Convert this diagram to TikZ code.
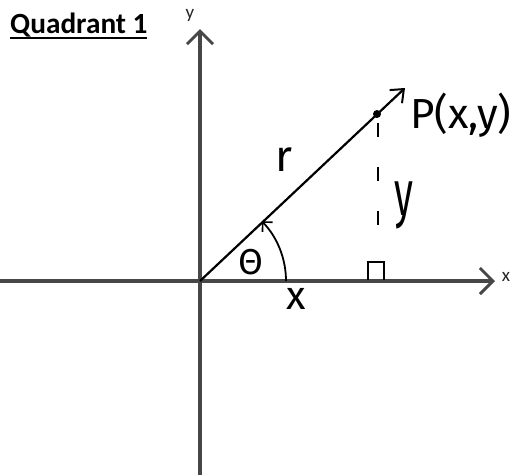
\documentclass[tikz,border=0pt]{standalone}
\usepackage{fontspec}
\setmainfont{Carlito}
\newfontfamily\hand{Fira Sans}
\usetikzlibrary{arrows.meta}
\begin{document}
\begin{tikzpicture}[x=1pt,y=-1pt,
  axis/.style={line width=3.2pt,draw=black!72,-{Straight Barb[length=13pt,width=26pt,line width=3pt]}},
  ray/.style={line width=2.2pt,-{Straight Barb[length=11pt,width=18pt,line width=2pt]}},
  handlbl/.style={font=\hand, inner sep=0pt},
  axlbl/.style={font=\fontsize{19}{21}\selectfont, inner sep=0pt, anchor=base, text=black!85}]
\useasboundingbox (0,0) rectangle (517,475);
% coordinates
\coordinate (O) at (200,281);
\coordinate (ytop) at (200,29);
\coordinate (ybot) at (200,475);
\coordinate (xleft) at (0,281);
\coordinate (xright) at (495,281);
\coordinate (tip) at (405,88);
\coordinate (P) at (377,114);
\coordinate (Pd1) at (378,123);
\coordinate (Pd2) at (378,226);
% axes
\draw[axis] (ybot) -- (ytop);
\draw[axis] (xleft) -- (xright);
% ray
\draw[ray] (O) -- (tip);
\fill (P) circle (4pt);
% dashed
\draw[line width=1.8pt, dash pattern=on 14pt off 30pt] (Pd1) -- (Pd2);
% right angle mark
\coordinate (ra1) at (368,280);
\coordinate (ra2) at (368,262);
\coordinate (ra3) at (384,262);
\coordinate (ra4) at (384,280);
\draw[line width=1.8pt] (ra1) -- (ra2) -- (ra3) -- (ra4);
% angle arc
\draw[line width=1.8pt, -{Straight Barb[length=7pt,width=14pt,line width=1.6pt]}]
  ([xshift=86pt]O) arc[start angle=0, end angle=44, radius=86pt];
% labels
\node[anchor=base west, inner sep=0pt, font=\bfseries\fontsize{29.3}{31}\selectfont] (title) at (10,33) {Quadrant 1};
\draw[line width=2.2pt] (10,38) -- (147,38);
\node[axlbl] (ylbl) at (190,18) {y};
\node[axlbl] (xlbl) at (506,281) {x};
\node[handlbl, anchor=base west, font=\hand\fontsize{42}{44}\selectfont] (Plbl) at (410,128) {P(x,y)};
\node[handlbl, font=\hand\fontsize{44}{46}\selectfont] (rlbl) at (284,160) {r};
\node[handlbl, font=\hand\fontsize{64}{66}\selectfont, xscale=0.6] (yseg) at (404,205) {y};
\node[handlbl, font=\hand\fontsize{36}{38}\selectfont] (theta) at (251,262) {Θ};
\node[handlbl, font=\hand\fontsize{40}{42}\selectfont] (xseg) at (296,299) {x};
\end{tikzpicture}
\end{document}
